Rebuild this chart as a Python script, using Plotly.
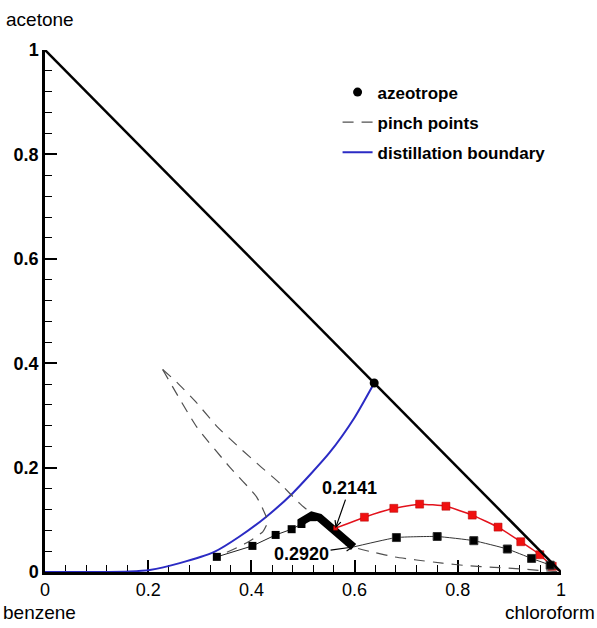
import plotly.graph_objects as go

# Triangle edge (acetone–chloroform side)
edge_x = [0.0, 1.0]
edge_y = [1.0, 0.0]

# Azeotrope on the acetone–chloroform edge
azeo_x = [0.638]
azeo_y = [0.362]

# Distillation boundary
boundary_x = [0.0, 0.10, 0.164, 0.203, 0.261, 0.329, 0.377, 0.429, 0.480, 0.551, 0.600, 0.638]
boundary_y = [0.0, 0.0, 0.001, 0.004, 0.017, 0.039, 0.068, 0.106, 0.151, 0.228, 0.296, 0.362]

# Pinch point curves
pinch1_x = [0.228, 0.294, 0.358, 0.410, 0.429, 0.431, 0.422, 0.391, 0.333]
pinch1_y = [0.388, 0.278, 0.201, 0.144, 0.105, 0.094, 0.077, 0.056, 0.029]
pinch2_x = [0.228, 0.255, 0.294, 0.334, 0.376, 0.419, 0.455, 0.493, 0.540, 0.598,
            0.640, 0.677, 0.720, 0.770, 0.820, 0.870, 0.920, 0.960, 1.0]
pinch2_y = [0.388, 0.364, 0.324, 0.278, 0.239, 0.201, 0.170, 0.132, 0.092, 0.048,
            0.037, 0.029, 0.023, 0.017, 0.012, 0.009, 0.006, 0.003, 0.0]

# Composition profile approaching the boundary
profile_x = [0.333, 0.402, 0.447, 0.478, 0.497, 0.518]
profile_y = [0.029, 0.050, 0.071, 0.082, 0.092, 0.105]

# Dense section of the profile
dense_x = [0.493, 0.505, 0.517, 0.532, 0.598]
dense_y = [0.094, 0.102, 0.108, 0.104, 0.048]

# Profile leaving from 0.2141
red_x = [0.563, 0.619, 0.676, 0.726, 0.777, 0.828, 0.878, 0.922, 0.959, 0.983, 1.0]
red_y = [0.084, 0.105, 0.122, 0.130, 0.126, 0.109, 0.086, 0.058, 0.033, 0.011, 0.0]
red_sizes = [4, 8, 8, 8, 8, 8, 8, 8, 8, 8, 0]

# Profile leaving from 0.2920
black_x = [0.598, 0.681, 0.760, 0.831, 0.896, 0.943, 0.979, 1.0]
black_y = [0.048, 0.066, 0.068, 0.060, 0.044, 0.026, 0.013, 0.0]
black_sizes = [0, 8, 8, 8, 8, 8, 8, 0]

# Labelled compositions
label_text = ["0.2141", "0.2920"]
label_x = [0.563, 0.598]
label_y = [0.084, 0.048]

tick_vals = [0, 0.2, 0.4, 0.6, 0.8, 1]
tick_text = ["0", "0.2", "0.4", "0.6", "0.8", "1"]

fig = go.Figure()

fig.add_trace(go.Scatter(
    x=boundary_x, y=boundary_y, mode="lines", name="distillation boundary",
    line=dict(color="#2b2bc4", width=2, shape="spline", smoothing=0.6),
    legendgroup="c", legendrank=3))

pinch_line = dict(color="#505050", width=1.2, dash="11px,8px", shape="spline", smoothing=0.5)
fig.add_trace(go.Scatter(
    x=pinch1_x, y=pinch1_y, mode="lines", name="pinch points",
    line=pinch_line, legendgroup="b", legendrank=2))
fig.add_trace(go.Scatter(
    x=pinch2_x, y=pinch2_y, mode="lines", showlegend=False,
    line=pinch_line, legendgroup="b"))

fig.add_trace(go.Scatter(
    x=profile_x, y=profile_y, mode="lines+markers", showlegend=False,
    line=dict(color="#222222", width=1),
    marker=dict(symbol="square", size=8, color="black", opacity=1)))
fig.add_trace(go.Scatter(
    x=dense_x, y=dense_y, mode="lines", showlegend=False,
    line=dict(color="black", width=8)))

fig.add_trace(go.Scatter(
    x=red_x, y=red_y, mode="lines+markers", showlegend=False,
    line=dict(color="#e3121c", width=1.5, shape="spline", smoothing=0.4),
    marker=dict(symbol="square", size=red_sizes, color="#f01010", opacity=1,
                line=dict(color="#b00000", width=0.5)),
    cliponaxis=False))
fig.add_trace(go.Scatter(
    x=black_x, y=black_y, mode="lines+markers", showlegend=False,
    line=dict(color="#333333", width=1, shape="spline", smoothing=0.4),
    marker=dict(symbol="square", size=black_sizes, color="black", opacity=1),
    cliponaxis=False))

fig.add_trace(go.Scatter(
    x=edge_x, y=edge_y, mode="lines", showlegend=False,
    line=dict(color="black", width=2.5)))

fig.add_trace(go.Scatter(
    x=azeo_x, y=azeo_y, mode="markers", name="azeotrope",
    marker=dict(symbol="circle", size=9, color="black"),
    cliponaxis=False, legendgroup="a", legendrank=1))

# Arrowed value labels
offsets = [(14, -40), (-52, 7)]
for txt, xv, yv, (dx, dy) in zip(label_text, label_x, label_y, offsets):
    fig.add_annotation(
        x=xv, y=yv, text=txt, showarrow=True, ax=dx, ay=dy,
        arrowhead=5, arrowsize=1, arrowwidth=1.2, arrowcolor="black",
        font=dict(family="Liberation Sans, Arial, sans-serif",
                  size=18, color="black", weight="bold"))

# Component names at the corners
corner_font = dict(family="Liberation Sans, Arial, sans-serif", size=19, color="black")
fig.add_annotation(x=-0.01, y=1.059, xref="paper", yref="paper", text="acetone",
                   showarrow=False, xanchor="center", yanchor="middle", font=corner_font)
fig.add_annotation(x=-0.01, y=-0.077, xref="paper", yref="paper", text="benzene",
                   showarrow=False, xanchor="center", yanchor="middle", font=corner_font)
fig.add_annotation(x=1.07, y=-0.077, xref="paper", yref="paper", text="chloroform",
                   showarrow=False, xanchor="right", yanchor="middle", font=corner_font)

axis_common = dict(
    range=[0, 1], showgrid=False, zeroline=False, showline=True,
    linecolor="black", linewidth=2.5, ticks="inside", ticklen=12, tickwidth=2.2,
    tickcolor="black", tickvals=tick_vals, ticktext=tick_text, layer="below traces",
    minor=dict(dtick=0.04, tick0=0, ticks="inside", ticklen=7, tickwidth=1.1,
               tickcolor="black", showgrid=False),
)

fig.update_xaxes(**axis_common,
                 tickfont=dict(family="Liberation Sans, Arial, sans-serif", size=18, color="black"))
fig.update_yaxes(**axis_common,
                 tickfont=dict(family="Liberation Sans, Arial, sans-serif", size=18,
                               color="black", weight="bold"))

fig.update_layout(
    width=597, height=628, autosize=False,
    margin=dict(l=45, r=36, t=50, b=56),
    plot_bgcolor="white", paper_bgcolor="white",
    showlegend=True,
    legend=dict(x=0.567, y=0.953, xanchor="left", yanchor="top",
                bgcolor="rgba(0,0,0,0)", borderwidth=0,
                traceorder="grouped", tracegroupgap=5, itemwidth=30,
                font=dict(family="Liberation Sans, Arial, sans-serif", size=17,
                          color="black", weight="bold")),
)

fig.write_html("out.html")
